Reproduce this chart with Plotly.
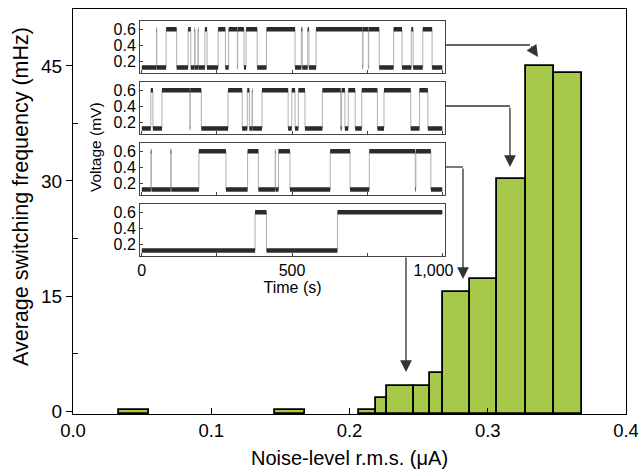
import plotly.graph_objects as go

# ---- Histogram of switching frequency versus injected noise level ----
bin_left_ua = [0.0335, 0.1463, 0.2066, 0.2192, 0.2272, 0.2469, 0.2580, 0.2674, 0.2874, 0.3067, 0.3277, 0.3476]
bin_right_ua = [0.0552, 0.1676, 0.2192, 0.2272, 0.2469, 0.2580, 0.2674, 0.2874, 0.3067, 0.3277, 0.3476, 0.3682]
switch_freq_mhz = [0.1, 0.1, 0.1, 1.7, 3.3, 3.3, 4.9, 15.5, 17.2, 30.3, 45.0, 44.1]

# ---- Voltage time traces (telegraph switching), switching instants in seconds ----
# each trace starts in the low state at t = 0 and toggles at every listed time
trace_a_switch_s = [49, 50, 81, 116, 154, 163, 176, 177, 187, 188, 210, 217, 254, 278, 289, 318,
                    319, 340, 347, 384, 415, 510, 531, 534, 552, 556, 580, 735, 736, 754, 755, 790,
                    838, 866, 897, 903, 935, 966]
trace_b_switch_s = [30, 37, 67, 160, 161, 198, 287, 334, 351, 358, 367, 368, 400, 487, 499, 510,
                    521, 543, 601, 662, 665, 676, 687, 710, 732, 784, 806, 895, 924, 952]
trace_c_switch_s = [30, 32, 96, 98, 190, 280, 352, 388, 444, 445, 455, 493, 627, 693, 757, 910,
                    912, 962]
trace_d_switch_s = [377, 415, 651]
trace_end_s = 1000
voltage_levels_mv = [0.12, 0.605]

inset_ytick_vals = [0.2, 0.4, 0.6]
inset_ytick_text = ["0.2", "0.4", "0.6"]
inset_xtick_vals = [0, 500, 1000]
inset_xtick_text = ["0", "500", "1,000\u00a0\u00a0\u00a0\u00a0"]

FONT = "Liberation Sans, Arial, Helvetica, sans-serif"
BAR_GREEN = "rgb(166,201,74)"
INK = "#333333"

W, H = 638, 471
ML, MR, MT, MB = 73, 12, 9, 57
PW, PH = W - ML - MR, H - MT - MB
Y_MIN, Y_MAX = -0.39, 52.43


def px_to_paper_x(px):
    return (px - ML) / PW


def px_to_paper_y(py):
    return (H - MB - py) / PH


fig = go.Figure()

# bars span their bin edges and rise from the bottom of the axis
centers = [(a + b) / 2 for a, b in zip(bin_left_ua, bin_right_ua)]
widths = [b - a for a, b in zip(bin_left_ua, bin_right_ua)]
fig.add_trace(go.Bar(
    x=centers, y=[f - Y_MIN for f in switch_freq_mhz], base=Y_MIN, width=widths,
    marker=dict(color=BAR_GREEN, line=dict(color="black", width=1.8)),
    xaxis="x", yaxis="y", showlegend=False, hoverinfo="skip",
))


def level_path(switches):
    ts = [0] + switches + [trace_end_s]
    xs, ys, seg_x, seg_y = [], [], [], []
    state = 0
    for t0, t1 in zip(ts[:-1], ts[1:]):
        lvl = voltage_levels_mv[state]
        xs += [t0, t1]
        ys += [lvl, lvl]
        seg_x += [t0, t1, None]
        seg_y += [lvl, lvl, None]
        state ^= 1
    return xs, ys, seg_x, seg_y


inset_traces = [trace_a_switch_s, trace_b_switch_s, trace_c_switch_s, trace_d_switch_s]
panel_tops_px = [21, 82, 143, 204]
panel_h_px = 52
inset_left_px, inset_right_px = 140, 445

layout_axes = {}
for i, (sw, top) in enumerate(zip(inset_traces, panel_tops_px)):
    k = i + 2
    xs, ys, sx, sy = level_path(sw)
    # thin transitions
    fig.add_trace(go.Scatter(x=xs, y=ys, mode="lines", line=dict(color="#b0b0b0", width=1),
                             xaxis=f"x{k}", yaxis=f"y{k}", showlegend=False, hoverinfo="skip"))
    # noisy dwell levels
    fig.add_trace(go.Scatter(x=sx, y=sy, mode="lines", line=dict(color="#2b2b2b", width=4.5),
                             xaxis=f"x{k}", yaxis=f"y{k}", showlegend=False, hoverinfo="skip"))
    last = i == 3
    layout_axes[f"xaxis{k}"] = dict(
        domain=[px_to_paper_x(inset_left_px), px_to_paper_x(inset_right_px)],
        anchor=f"y{k}", range=[-6, 1009], showgrid=False, zeroline=False, automargin=False,
        showline=True, mirror=True, linecolor="#444", linewidth=1,
        ticks="inside", ticklen=3, tickcolor="#444",
        tickvals=inset_xtick_vals, ticktext=inset_xtick_text,
        minor=dict(tickvals=[250, 750], ticks="inside", ticklen=3, tickcolor="#444"),
        showticklabels=last, tickfont=dict(size=16, color="black", family=FONT),
        title=dict(text="Time (s)" if last else "", font=dict(size=16, color="black", family=FONT),
                   standoff=2),
    )
    layout_axes[f"yaxis{k}"] = dict(
        domain=[px_to_paper_y(top + panel_h_px), px_to_paper_y(top)],
        anchor=f"x{k}", range=[0.05, 0.71], showgrid=False, zeroline=False, automargin=False,
        showline=True, mirror=True, linecolor="#444", linewidth=1,
        ticks="inside", ticklen=3, tickcolor="#444",
        tickvals=inset_ytick_vals, ticktext=inset_ytick_text,
        tickfont=dict(size=16, color="black", family=FONT),
    )


def dx(px):
    return (px - ML) / PW * 0.4


def dy(py):
    return Y_MAX - (py - MT) / PH * (Y_MAX - Y_MIN)


# arrows linking each trace to its histogram bin
legs = [
    # (horizontal start px, horizontal end px, y px, arrow tip x px, tip y px)
    (inset_right_px, 530, 45, 538, 57),
    (inset_right_px, 510, 106, 510, 167),
    (inset_right_px, 463, 167, 463, 279),
]
shapes = []
annotations = []
for x0, x1, yy, tx, ty in legs:
    shapes.append(dict(type="line", xref="x", yref="y", x0=dx(x0), x1=dx(x1), y0=dy(yy), y1=dy(yy),
                       line=dict(color=INK, width=1.3)))
    annotations.append(dict(x=dx(tx), y=dy(ty), ax=dx(x1), ay=dy(yy), xref="x", yref="y",
                            axref="x", ayref="y", text="", showarrow=True, arrowhead=2,
                            arrowsize=1.8, arrowwidth=1.3, arrowcolor=INK, standoff=0))
annotations.append(dict(x=dx(406), y=dy(372), ax=dx(406), ay=dy(256), xref="x", yref="y",
                        axref="x", ayref="y", text="", showarrow=True, arrowhead=2,
                        arrowsize=1.8, arrowwidth=1.3, arrowcolor=INK, standoff=0))
annotations.append(dict(text="Voltage (mV)", xref="paper", yref="paper",
                        x=px_to_paper_x(95), y=px_to_paper_y(147), textangle=-90,
                        xanchor="center", yanchor="middle",
                        showarrow=False, font=dict(size=15.5, color="black", family=FONT)))
# main y-axis title
annotations.append(dict(text="Average switching frequency (mHz)", xref="paper", yref="paper",
                        x=px_to_paper_x(21), y=px_to_paper_y(197), textangle=-90,
                        xanchor="center", yanchor="middle",
                        showarrow=False, font=dict(size=21.5, color="black", family=FONT)))

fig.update_layout(
    width=W, height=H, margin=dict(l=ML, r=MR, t=MT, b=MB, autoexpand=False),
    paper_bgcolor="white", plot_bgcolor="white",
    font=dict(family=FONT, color="black"),
    bargap=0,
    xaxis=dict(
        range=[0, 0.4], tickvals=[0, 0.1, 0.2, 0.3, 0.4], tickformat=".1f", automargin=False,
        ticklabeloverflow="allow",
        ticks="inside", ticklen=6, tickcolor="black", tickwidth=1.2,
        showline=True, mirror=True, linecolor="black", linewidth=1.3,
        showgrid=False, zeroline=False,
        tickfont=dict(size=18.5, color="black", family=FONT),
        title=dict(text="Noise-level r.m.s. (μA)", font=dict(size=20, color="black", family=FONT),
                   standoff=10),
    ),
    yaxis=dict(
        range=[Y_MIN, Y_MAX], tickvals=[0, 15, 30, 45], automargin=False,
        ticklabeloverflow="allow",
        ticks="outside", ticklen=6, tickcolor="black", tickwidth=1.2,
        minor=dict(tickvals=[7.5, 22.5, 37.5], ticks="inside", ticklen=5, tickcolor="black"),
        showline=True, mirror=True, linecolor="black", linewidth=1.3,
        showgrid=False, zeroline=False,
        tickfont=dict(size=19, color="black", family=FONT),
    ),
    shapes=shapes,
    annotations=annotations,
    **layout_axes,
)

fig.write_html("out.html")
